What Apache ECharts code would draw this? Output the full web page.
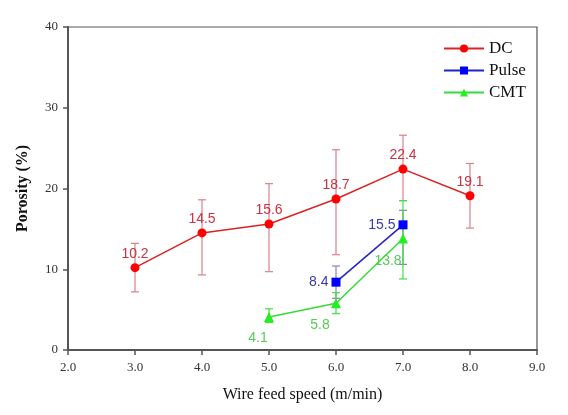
<!DOCTYPE html>
<html><head><meta charset="utf-8">
<script src="https://cdn.jsdelivr.net/npm/echarts@6/dist/echarts.min.js"></script>
<style>html,body{margin:0;padding:0;background:#fff}#c{width:568px;height:415px}</style>
</head><body><div id="c"></div>
<script>
var dcX = [3, 4, 5, 6, 7, 8];
var dcY = [10.2, 14.5, 15.6, 18.7, 22.4, 19.1];
var dcLow = [7.2, 9.3, 9.7, 11.8, 18.5, 15.1];
var dcHigh = [13.2, 18.6, 20.6, 24.8, 26.6, 23.1];
var pulseX = [6, 7];
var pulseY = [8.4, 15.5];
var pulseLow = [6.4, 10.6];
var pulseHigh = [10.4, 17.3];
var cmtX = [5, 6, 7];
var cmtY = [4.1, 5.8, 13.8];
var cmtLow = [3.4, 4.5, 8.8];
var cmtHigh = [5.1, 7.1, 18.5];
var xTicks = ['2.0','3.0','4.0','5.0','6.0','7.0','8.0','9.0'];

function pts(x, y) { return x.map(function (v, i) { return [v, y[i]]; }); }
function errData(x, lo, hi) { return x.map(function (v, i) { return [v, lo[i], hi[i]]; }); }
function errSeries(name, x, lo, hi, color) {
  return {
    type: 'custom', name: name + ' err', z: 1,
    data: errData(x, lo, hi),
    encode: { x: 0, y: [1, 2] },
    renderItem: function (params, api) {
      var xv = api.value(0);
      var p1 = api.coord([xv, api.value(1)]);
      var p2 = api.coord([xv, api.value(2)]);
      var w = 4;
      var st = { stroke: color, lineWidth: 1.2 };
      return { type: 'group', children: [
        { type: 'line', shape: { x1: p1[0], y1: p1[1], x2: p2[0], y2: p2[1] }, style: st },
        { type: 'line', shape: { x1: p1[0]-w, y1: p1[1], x2: p1[0]+w, y2: p1[1] }, style: st },
        { type: 'line', shape: { x1: p2[0]-w, y1: p2[1], x2: p2[0]+w, y2: p2[1] }, style: st }
      ]};
    }
  };
}
var serif = '"Liberation Serif", "Times New Roman", serif';
var sans = '"Liberation Sans", Arial, sans-serif';
var chart = echarts.init(document.getElementById('c'), null, { renderer: 'canvas' });
var cmtLabelPos = [[-6, 26], [-11, 27], [-10, 28]];
chart.setOption({
  animation: false,
  backgroundColor: '#fff',
  grid: { left: 68, right: 31, top: 27, bottom: 65, show: true, borderColor: '#555', borderWidth: 1.2, backgroundColor: 'transparent' },
  legend: {
    orient: 'vertical', left: 438, top: 35, itemWidth: 40, itemHeight: 10, itemGap: 5,
    data: ['DC', 'Pulse', 'CMT'],
    textStyle: { fontFamily: serif, fontSize: 17, color: '#111' }
  },
  xAxis: {
    type: 'value', min: 2, max: 9, interval: 1,
    name: 'Wire feed speed (m/min)', nameLocation: 'middle', nameGap: 37,
    nameTextStyle: { fontFamily: serif, fontSize: 16, color: '#111' },
    axisLine: { show: true, lineStyle: { color: '#555', width: 2 } },
    axisTick: { show: true, inside: false, length: 5, lineStyle: { color: '#555', width: 1.5 } },
    axisLabel: { fontFamily: serif, fontSize: 13, color: '#333', margin: 11,
      formatter: function (v) { return xTicks[Math.round(v - 2)]; } },
    splitLine: { show: false }
  },
  yAxis: {
    type: 'value', min: 0, max: 40, interval: 10,
    name: 'Porosity (%)', nameLocation: 'middle', nameGap: 37,
    nameTextStyle: { fontFamily: serif, fontSize: 16, fontWeight: 'bold', color: '#111' },
    axisLine: { show: true, lineStyle: { color: '#555', width: 2 } },
    axisTick: { show: true, inside: false, length: 5, lineStyle: { color: '#555', width: 1.5 } },
    axisLabel: { fontFamily: serif, fontSize: 13, color: '#333', margin: 10 },
    splitLine: { show: false }
  },
  series: [
    errSeries('DC', dcX, dcLow, dcHigh, '#d9808e'),
    errSeries('Pulse', pulseX, pulseLow, pulseHigh, '#8585b0'),
    errSeries('CMT', cmtX, cmtLow, cmtHigh, '#44dd44'),
    {
      name: 'DC', type: 'line', z: 3, data: pts(dcX, dcY),
      symbol: 'circle', symbolSize: 9,
      lineStyle: { color: '#dd2222', width: 1.5 },
      itemStyle: { color: '#ff0000' },
      label: { show: true, position: 'top', distance: 2, color: '#cc3344', fontFamily: sans, fontSize: 14,
        formatter: function (p) { return p.value[1].toFixed(1); } }
    },
    {
      name: 'Pulse', type: 'line', z: 3, data: pts(pulseX, pulseY),
      symbol: 'rect', symbolSize: 9,
      lineStyle: { color: '#2222cc', width: 1.5 },
      itemStyle: { color: '#0000ff' },
      label: { show: true, position: 'left', distance: 3, color: '#3a3aaa', fontFamily: sans, fontSize: 14,
        formatter: function (p) { return p.value[1].toFixed(1); } }
    },
    {
      name: 'CMT', type: 'line', z: 3,
      data: cmtX.map(function (v, i) { return { value: [v, cmtY[i]], label: { position: cmtLabelPos[i] } }; }),
      symbol: 'triangle', symbolSize: 10,
      lineStyle: { color: '#33dd33', width: 1.5 },
      itemStyle: { color: '#22ee22' },
      label: { show: true, color: '#55cc55', fontFamily: sans, fontSize: 14, align: 'center', verticalAlign: 'middle',
        formatter: function (p) { return p.value[1].toFixed(1); } }
    }
  ]
});
</script></body></html>
